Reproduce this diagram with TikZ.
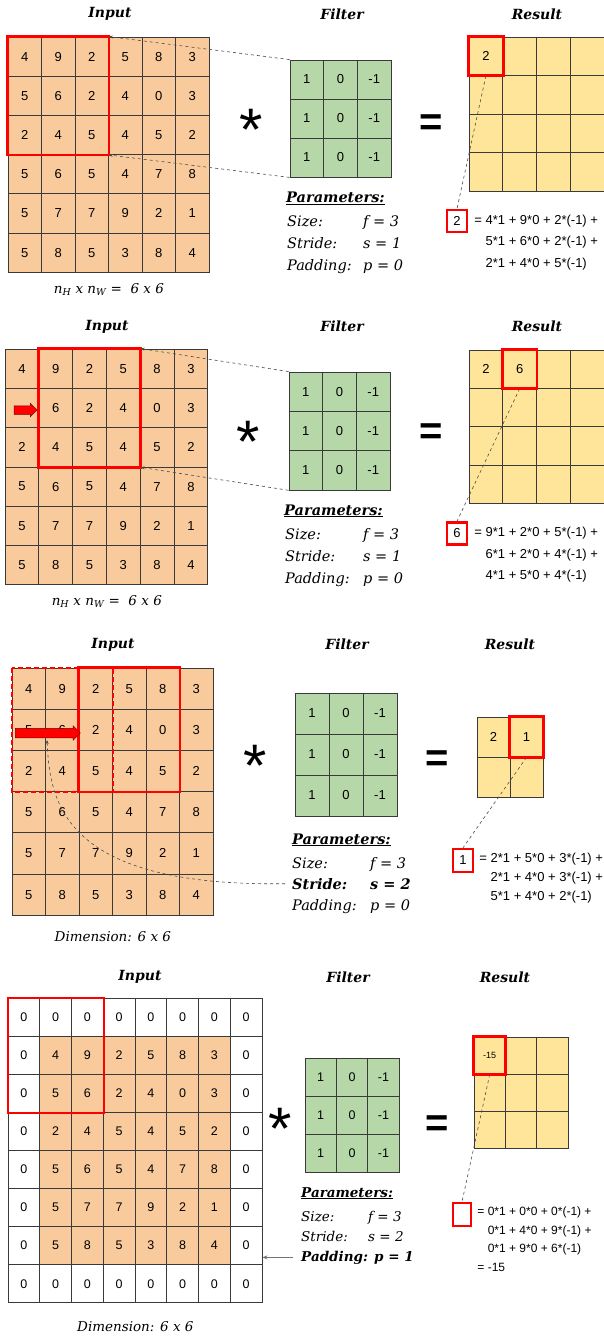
\documentclass[tikz,border=0pt]{standalone}
\usepackage{fontspec}
\setmainfont{DejaVu Serif}
\setsansfont{Liberation Sans}
\usetikzlibrary{arrows.meta,positioning,shapes.arrows,backgrounds}
\definecolor{InFill}{HTML}{F9CB9C}
\definecolor{FiltFill}{HTML}{B6D7A8}
\definecolor{ResFill}{HTML}{FFE599}
\definecolor{GridLine}{HTML}{3A3A3A}
\definecolor{Hot}{HTML}{FF0000}

% name, left, top, cell width, cell height, extra style, rows
\newcommand{\cellgrid}[7]{%
  \foreach \row [count=\ri] in {#7}{
    \foreach \val [count=\ci] in \row{
      \node[cell,#6,minimum width=#4pt,minimum height=#5pt] (#1-\ri-\ci) at ({#2+(\ci-0.5)*#4},{#3+(\ri-0.5)*#5}) {\val};
    }
  }%
}
\newcommand{\parline}[3][76pt]{\makebox[#1][l]{#2}#3}

\begin{document}
\begin{tikzpicture}[x=1pt,y=-1pt,
cell/.style={draw=GridLine,line width=.8pt,inner sep=0pt,font=\fontsize{13}{13}\selectfont\sffamily},
title/.style={font=\fontsize{14}{14}\selectfont\bfseries\itshape},
caption/.style={font=\fontsize{13.5}{13.5}\selectfont\itshape},
param/.style={anchor=base west,inner sep=0pt,font=\fontsize{14.5}{14.5}\selectfont\itshape},
parhead/.style={param,font=\fontsize{14.5}{14.5}\selectfont\bfseries\itshape},
op/.style={anchor=base,inner sep=0pt,font=\fontsize{60}{60}\selectfont\sffamily},
eqsign/.style={anchor=base,inner sep=0pt,font=\fontsize{40}{40}\selectfont\sffamily\bfseries},
hotbox/.style={draw=Hot,line width=2.8pt},
hotsq/.style={draw=Hot,line width=2.5pt,inner sep=0pt,minimum width=20pt,minimum height=22pt,font=\fontsize{13}{13}\selectfont\sffamily},
eqn/.style={inner sep=0pt,align=left,font=\fontsize{13}{21.5}\selectfont\sffamily},
guide/.style={dashed,draw=black!70,line width=.6pt,-{Stealth[length=4pt,width=3pt]}},
hint/.style={dashed,draw=black!70,line width=.6pt},
redarrow/.style={single arrow,fill=Hot,draw=Hot!45!black,line width=.5pt,inner xsep=0pt,inner ysep=4pt,single arrow head extend=2.5pt}]
\useasboundingbox (0,0) rectangle (604,1337);
\begin{scope}[on background layer]
\fill[white] (0,0) rectangle (604,1337);
\end{scope}

% ---- stride 1, first position
\node[title] (p1tin) at (110,14) {Input};
\node[title] (p1tflt) at (342,14) {Filter};
\node[title] (p1tres) at (537,14) {Result};
\cellgrid{p1in}{8}{37}{33.5}{39.2}{fill=InFill}{{4,9,2,5,8,3},{5,6,2,4,0,3},{2,4,5,4,5,2},{5,6,5,4,7,8},{5,7,7,9,2,1},{5,8,5,3,8,4}}
\cellgrid{p1flt}{290}{60}{33.7}{39}{fill=FiltFill}{{1,0,-1},{1,0,-1},{1,0,-1}}
\cellgrid{p1res}{469}{37}{33.75}{38.5}{fill=ResFill}{{2,{},{},{}},{{},{},{},{}},{{},{},{},{}},{{},{},{},{}}}
\draw[hotbox] (p1in-1-1.north west) rectangle (p1in-3-3.south east);
\draw[hotbox] (p1res-1-1.north west) rectangle (p1res-1-1.south east);
\draw[guide] (p1flt-1-1.north west) -- (p1in-1-3.north east);
\draw[guide] (p1flt-3-1.south west) -- (p1in-3-3.south east);
\node[op] (p1ast) at (251,151) {*};
\node[eqsign] (p1eq) at (431,136) {=};
\node[caption,below=7pt of p1in-6-3.south east] (p1cap) {n\textsubscript{H} x n\textsubscript{W} =\ \ 6 x 6};
\node[parhead] (p1par) at (286,203) {\underline{Parameters:}};
\node[param] (p1size) at (287,227) {\parline{Size:}{f = 3}};
\node[param] (p1stride) at (287,249) {\parline{Stride:}{s = 1}};
\node[param] (p1pad) at (287,271) {\parline{Padding:}{p = 0}};
\node[hotsq] (p1box) at (457,221) {2};
\node[eqn,below right=6pt and 6pt of p1box.north east] (p1sum) {= 4*1 + 9*0 + 2*(-1) +\\\phantom{= }5*1 + 6*0 + 2*(-1) +\\\phantom{= }2*1 + 4*0 + 5*(-1)};
\draw[hint] (p1res-1-1.south) -- (p1box.north);

% ---- stride 1, second position
\node[title] (p2tin) at (107,327) {Input};
\node[title] (p2tflt) at (342,326) {Filter};
\node[title] (p2tres) at (537,326) {Result};
\cellgrid{p2in}{5}{349}{33.8}{39.3}{fill=InFill}{{4,9,2,5,8,3},{{},6,2,4,0,3},{2,4,5,4,5,2},{5,6,5,4,7,8},{5,7,7,9,2,1},{5,8,5,3,8,4}}
\cellgrid{p2flt}{289}{372}{33.7}{39.3}{fill=FiltFill}{{1,0,-1},{1,0,-1},{1,0,-1}}
\cellgrid{p2res}{469}{350}{33.75}{38.3}{fill=ResFill}{{2,6,{},{}},{{},{},{},{}},{{},{},{},{}},{{},{},{},{}}}
\draw[hotbox] (p2in-1-2.north west) rectangle (p2in-3-4.south east);
\draw[hotbox] (p2res-1-2.north west) rectangle (p2res-1-2.south east);
\node[redarrow,minimum height=23pt] (p2arr) at (23.5,410) {};
\draw[guide] (p2flt-1-1.north west) -- (p2in-1-4.north east);
\draw[guide] (p2flt-3-1.south west) -- (p2in-3-4.south east);
\node[op] (p2ast) at (248,462) {*};
\node[eqsign] (p2eq) at (431,444) {=};
\node[caption,below=7pt of p2in-6-3.south east] (p2cap) {n\textsubscript{H} x n\textsubscript{W} =\ \ 6 x 6};
\node[parhead] (p2par) at (284,515) {\underline{Parameters:}};
\node[param] (p2size) at (285,539) {\parline[78pt]{Size:}{f = 3}};
\node[param] (p2stride) at (285,561) {\parline[78pt]{Stride:}{s = 1}};
\node[param] (p2pad) at (285,583) {\parline[78pt]{Padding:}{p = 0}};
\node[hotsq] (p2box) at (457,533.5) {6};
\node[eqn,below right=6pt and 6pt of p2box.north east] (p2sum) {= 9*1 + 2*0 + 5*(-1) +\\\phantom{= }6*1 + 2*0 + 4*(-1) +\\\phantom{= }4*1 + 5*0 + 4*(-1)};
\draw[hint] (p2res-1-2.south) -- (p2box.north);

% ---- stride 2
\node[title] (p3tin) at (113,645) {Input};
\node[title] (p3tflt) at (347,644) {Filter};
\node[title] (p3tres) at (510,644) {Result};
\cellgrid{p3in}{12}{668}{33.5}{41.2}{fill=InFill}{{4,9,2,5,8,3},{5,6,2,4,0,3},{2,4,5,4,5,2},{5,6,5,4,7,8},{5,7,7,9,2,1},{5,8,5,3,8,4}}
\cellgrid{p3flt}{295}{693}{34}{41}{fill=FiltFill}{{1,0,-1},{1,0,-1},{1,0,-1}}
\cellgrid{p3res}{477}{717}{33}{40}{fill=ResFill}{{2,1},{{},{}}}
\draw[hotbox,line width=2.2pt,dash pattern=on 5pt off 3pt] (p3in-1-1.north west) rectangle (p3in-3-3.south east);
\draw[hotbox] (p3in-1-3.north west) rectangle (p3in-3-5.south east);
\draw[hotbox] (p3res-1-2.north west) rectangle (p3res-1-2.south east);
\node[redarrow,minimum height=65pt,inner ysep=4.5pt,single arrow head extend=2.5pt] (p3arr) at (45.5,733) {};
\node[op] (p3ast) at (255,786) {*};
\node[eqsign] (p3eq) at (437,771) {=};
\node[caption,below=12pt of p3in-6-3.south east] (p3cap) {Dimension: 6 x 6};
\node[parhead] (p3par) at (292,844) {\underline{Parameters:}};
\node[param] (p3size) at (292,868) {\parline[78pt]{Size:}{f = 3}};
\node[param,font=\fontsize{14.5}{14.5}\selectfont\bfseries\itshape] (p3stride) at (292,889) {\parline[78pt]{Stride:}{s = 2}};
\node[param] (p3pad) at (292,910) {\parline[78pt]{Padding:}{p = 0}};
\coordinate (p3hint) at (47,740);
\draw[guide,shorten <=7pt] (p3stride.west) .. controls (60,887) and (50,800) .. (p3hint);
\node[hotsq,minimum height=23pt] (p3box) at (463,860.5) {1};
\node[eqn,font=\fontsize{13}{19}\selectfont\sffamily,below right=5pt and 5pt of p3box.north east] (p3sum) {= 2*1 + 5*0 + 3*(-1) +\\\phantom{= }2*1 + 4*0 + 3*(-1) +\\\phantom{= }5*1 + 4*0 + 2*(-1)};
\draw[hint] (p3res-1-2.south) -- (p3box.north);

% ---- padding 1
\node[title] (p4tin) at (140,977) {Input};
\node[title] (p4tflt) at (348,977) {Filter};
\node[title] (p4tres) at (505,977) {Result};
\cellgrid{p4in}{8}{998}{31.75}{38.1}{fill=none,font=\fontsize{12.5}{12.5}\selectfont\sffamily}{{0,0,0,0,0,0,0,0},{0,4,9,2,5,8,3,0},{0,5,6,2,4,0,3,0},{0,2,4,5,4,5,2,0},{0,5,6,5,4,7,8,0},{0,5,7,7,9,2,1,0},{0,5,8,5,3,8,4,0},{0,0,0,0,0,0,0,0}}
\begin{scope}[on background layer]
\fill[InFill] (p4in-2-2.north west) rectangle (p4in-7-7.south east);
\end{scope}
\cellgrid{p4flt}{305}{1058}{31.4}{38}{fill=FiltFill,font=\fontsize{12.5}{12.5}\selectfont\sffamily}{{1,0,-1},{1,0,-1},{1,0,-1}}
\cellgrid{p4res}{474}{1037}{31.4}{37}{fill=ResFill,font=\fontsize{9}{9}\selectfont\sffamily}{{-15,{},{}},{{},{},{}},{{},{},{}}}
\draw[hotbox,line width=2.2pt] (p4in-1-1.north west) rectangle (p4in-3-3.south east);
\draw[hotbox] (p4res-1-1.north west) rectangle (p4res-1-1.south east);
\node[op] (p4ast) at (280,1149) {*};
\node[eqsign] (p4eq) at (437,1136) {=};
\node[caption,below=15pt of p4in-8-4.south east] (p4cap) {Dimension: 6 x 6};
\node[parhead,font=\fontsize{13.5}{13.5}\selectfont\bfseries\itshape] (p4par) at (301,1197) {\underline{Parameters:}};
\node[param,font=\fontsize{13.5}{13.5}\selectfont\itshape] (p4size) at (301,1221) {\parline[67pt]{Size:}{f = 3}};
\node[param,font=\fontsize{13.5}{13.5}\selectfont\itshape] (p4stride) at (301,1241) {\parline[67pt]{Stride:}{s = 2}};
\node[param,font=\fontsize{13.5}{13.5}\selectfont\bfseries\itshape] (p4pad) at (301,1261) {Padding: p = 1};
\draw[draw=black!55,line width=.8pt,-{Stealth[length=5pt,width=4pt]},shorten <=8pt] (p4pad.west) -- (p4pad.west -| p4in-7-8.east);
\node[hotsq,minimum width=18pt,minimum height=23pt] (p4box) at (462,1214.5) {};
\node[eqn,font=\fontsize{12}{18.5}\selectfont\sffamily,below right=5pt and 5pt of p4box.north east] (p4sum) {= 0*1 + 0*0 + 0*(-1) +\\\phantom{= }0*1 + 4*0 + 9*(-1) +\\\phantom{= }0*1 + 9*0 + 6*(-1)\\= -15};
\draw[hint] (p4res-1-1.south) -- (p4box.north);
\end{tikzpicture}
\end{document}
